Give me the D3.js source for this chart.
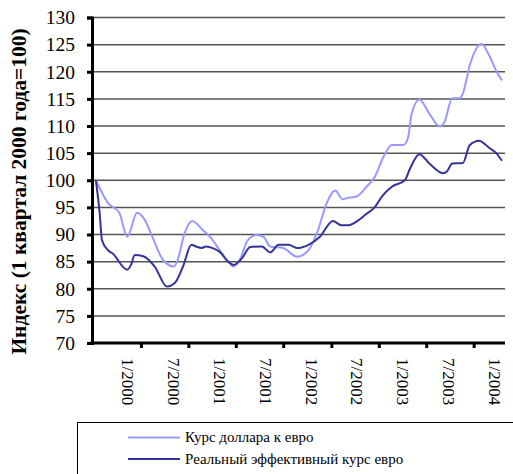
<!DOCTYPE html>
<html>
<head>
<meta charset="utf-8">
<script src="https://cdn.jsdelivr.net/npm/d3@7"></script>
</head>
<body style="margin:0">
<script>
// месяцы от 1/2000 (0 = январь 2000)
const usdMonths = [-4.2, -2.6, -1.1, -0.1, 1.2, 2.2, 3.1, 4.6, 6.0, 6.5, 7.4, 8.4, 9.8, 10.9, 12.0, 13.1, 13.8, 14.6, 15.7, 16.8, 17.7, 18.6, 20.3, 22.1, 23.6, 24.7, 26.0, 27.1, 28.1, 28.6, 29.9, 31.2, 32.3, 33.4, 34.5, 36.0, 36.6, 37.1, 38.1, 39.4, 40.8, 41.4, 42.4, 43.4, 43.8, 44.7, 46.2, 47.3, 48.2, 48.9];
const usdValues = [100, 95.8, 93.9, 89.6, 94.0, 92.7, 89.9, 85.3, 84.1, 85.3, 90.2, 92.5, 90.8, 89.3, 87.1, 85.0, 84.1, 85.3, 89.0, 89.9, 89.6, 87.8, 87.5, 85.9, 87.1, 90.2, 95.8, 98.1, 96.5, 96.7, 97.0, 98.8, 100.7, 104.3, 106.5, 106.5, 107.7, 112.3, 114.9, 112.3, 109.9, 110.8, 115.1, 115.1, 116.0, 121.2, 125.1, 122.8, 120.0, 118.4];

const reerMonths = [-4.2, -3.7, -3.4, -2.6, -2.0, -0.1, 0.4, 0.9, 2.0, 3.5, 5.1, 6.1, 7.2, 8.3, 8.9, 9.6, 10.2, 11.1, 12.0, 13.1, 13.8, 14.9, 16.0, 17.5, 18.6, 19.7, 21.0, 22.1, 23.6, 25.1, 26.8, 27.9, 28.8, 30.3, 31.0, 32.3, 33.2, 34.5, 36.2, 36.9, 38.1, 39.4, 41.2, 41.7, 42.4, 43.8, 44.7, 45.9, 47.3, 48.1, 48.9];
const reerValues = [100, 94.0, 89.0, 87.1, 86.5, 83.5, 84.4, 86.2, 86.0, 84.1, 80.4, 81.0, 84.1, 88.1, 87.8, 87.5, 87.8, 87.5, 86.8, 85.0, 84.4, 85.6, 87.7, 87.8, 86.7, 88.1, 88.1, 87.5, 88.1, 89.6, 92.5, 91.7, 91.7, 92.8, 93.6, 95.1, 97.0, 98.8, 100.0, 102.2, 104.8, 103.1, 101.3, 101.6, 103.1, 103.2, 106.5, 107.3, 105.9, 105.1, 103.6];

const seriesNames = ["Курс доллара к евро", "Реальный эффективный курс евро"];
const seriesColors = ["#9999ff", "#333399"];

const yTicks = [70, 75, 80, 85, 90, 95, 100, 105, 110, 115, 120, 125, 130];
const xLabelMonths = [0, 6, 12, 18, 24, 30, 36, 42, 48];
const xLabels = ["1/2000", "7/2000", "1/2001", "7/2001", "1/2002", "7/2002", "1/2003", "7/2003", "1/2004"];
const xTickMonths = [1.7, 7.9, 14.1, 20.3, 26.6, 32.8, 39.0, 45.2];

const yTitle = "Индекс (1 квартал 2000 года=100)";

const FONT = '"Liberation Serif", "Times New Roman", serif';

const width = 513, height = 474;
const plot = { left: 92, right: 505, top: 17.5, bottom: 343 };

const svg = d3.select("body")
    .append("svg")
    .attr("width", width)
    .attr("height", height);

const x = d3.scaleLinear().domain([-4.7, 49.3]).range([plot.left, plot.right]);
const y = d3.scaleLinear().domain([70, 130]).range([plot.bottom, plot.top]);

// Сетка
svg.selectAll("line.grid")
    .data(yTicks.filter(d => d > 70))
    .enter()
    .append("line")
    .attr("class", "grid")
    .attr("x1", plot.left)
    .attr("x2", plot.right)
    .attr("y1", d => y(d))
    .attr("y2", d => y(d))
    .attr("stroke", "#555")
    .attr("stroke-width", 1.5);

// Линии
const series = [
    { name: seriesNames[0], color: seriesColors[0], pts: usdMonths.map((m, i) => [m, usdValues[i]]) },
    { name: seriesNames[1], color: seriesColors[1], pts: reerMonths.map((m, i) => [m, reerValues[i]]) }
];

const line = d3.line()
    .x(d => x(d[0]))
    .y(d => y(d[1]))
    .curve(d3.curveMonotoneX);

svg.selectAll("path.series")
    .data(series)
    .enter()
    .append("path")
    .attr("class", "series")
    .attr("d", d => line(d.pts))
    .attr("fill", "none")
    .attr("stroke", d => d.color)
    .attr("stroke-width", 2);

// Оси
const gy = svg.append("g")
    .attr("transform", `translate(${plot.left},0)`)
    .call(d3.axisLeft(y).tickValues(yTicks).tickSize(5).tickPadding(12));
gy.select(".domain").attr("stroke", "#000").attr("stroke-width", 3);
gy.selectAll(".tick line").attr("stroke", "#000").attr("stroke-width", 3);
gy.selectAll(".tick text")
    .style("font-family", FONT)
    .style("font-size", "19.5px")
    .attr("fill", "#000");

const gx = svg.append("g")
    .attr("transform", `translate(0,${plot.bottom})`)
    .call(d3.axisBottom(x).tickValues(xTickMonths).tickSize(5).tickFormat(""));
gx.select(".domain").attr("stroke", "#000").attr("stroke-width", 3)
    .attr("d", `M${plot.left - 1.5},0H${plot.right}`);
gx.selectAll(".tick line").attr("stroke", "#000").attr("stroke-width", 3);

// Подписи оси X
svg.selectAll("text.xlabel")
    .data(xLabelMonths)
    .enter()
    .append("text")
    .attr("class", "xlabel")
    .attr("transform", d => `translate(${x(d)},${plot.bottom + 15}) rotate(90)`)
    .attr("dy", "0.35em")
    .style("font-family", FONT)
    .style("font-size", "17px")
    .attr("fill", "#000")
    .text((d, i) => xLabels[i]);

// Заголовок оси Y
svg.append("text")
    .attr("transform", "translate(26,191.5) rotate(-90)")
    .attr("text-anchor", "middle")
    .style("font-family", FONT)
    .style("font-size", "21.5px")
    .style("font-weight", "bold")
    .attr("fill", "#000")
    .text(yTitle);

// Легенда
svg.append("rect")
    .attr("x", 77.5)
    .attr("y", 422.5)
    .attr("width", 460)
    .attr("height", 80)
    .attr("fill", "#fff")
    .attr("stroke", "#000")
    .attr("stroke-width", 1);

const legend = svg.selectAll("g.legend")
    .data(series)
    .enter()
    .append("g")
    .attr("class", "legend")
    .attr("transform", (d, i) => `translate(128,${437.5 + i * 21.5})`);

legend.append("line")
    .attr("x1", 0)
    .attr("x2", 52)
    .attr("stroke", d => d.color)
    .attr("stroke-width", 2);

legend.append("text")
    .attr("x", 57)
    .attr("dy", "0.32em")
    .style("font-family", FONT)
    .style("font-size", "15px")
    .attr("fill", "#000")
    .text(d => d.name);
</script>
</body>
</html>
